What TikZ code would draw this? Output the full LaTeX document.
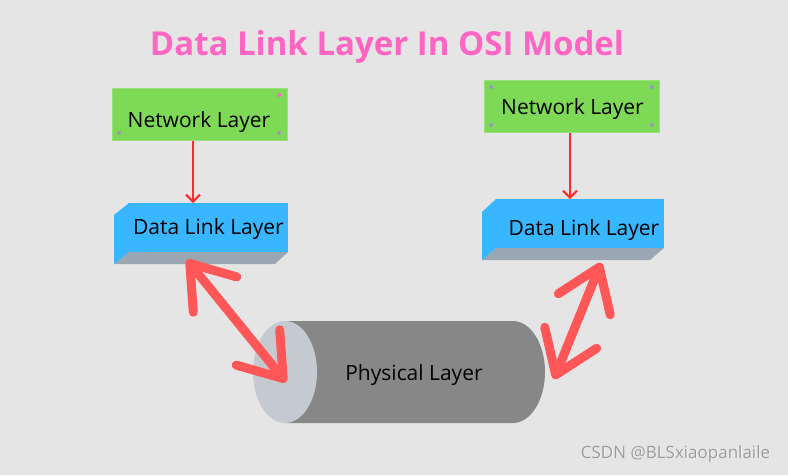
\documentclass[tikz,border=0pt]{standalone}
\usepackage{fontspec}
\setmainfont{Open Sans}
\usetikzlibrary{arrows.meta}
\definecolor{bg}{HTML}{E5E5E5}
\definecolor{netgreen}{HTML}{7ED957}
\definecolor{dllblue}{HTML}{38B6FF}
\definecolor{dllgrey}{HTML}{9AA6B2}
\definecolor{thinred}{HTML}{FF2A2A}
\definecolor{coral}{HTML}{FF5757}
\definecolor{titlepink}{HTML}{FF66C4}
\definecolor{cylbody}{HTML}{878787}
\definecolor{cylcap}{HTML}{C5CAD0}
\definecolor{dotgrey}{HTML}{9A9AB0}
\tikzset{
  netbox/.style={fill=netgreen, draw=netgreen!80!white, line width=0.6pt, minimum width=175pt, minimum height=52pt, inner sep=0pt},
  lbl/.style={font=\fontsize{21}{24}\selectfont, inner sep=0pt, anchor=base},
  thinarrow/.style={draw=thinred, line width=2pt, -{Straight Barb[length=7pt,width=14pt]}},
  bigarrow/.style={draw=coral, line width=9pt, line cap=round, {Straight Barb[length=40pt,width=56pt,round]}-{Straight Barb[length=40pt,width=56pt,round]}},
  cdot/.style={fill=dotgrey, draw=none},
}
\begin{document}
\begin{tikzpicture}[x=1pt,y=-1pt]
\fill[bg] (0,0) rectangle (788,475);
\useasboundingbox (0,0) rectangle (788,475);

% title
\node[font=\bfseries\fontsize{33}{37}\selectfont, text=titlepink, inner sep=0pt, anchor=base] (title) at (387,55) {Data Link Layer In OSI Model};

% left network layer
\node[netbox] (netL) at (199.5,114.5) {};
\node[lbl] (netLt) at (199,127) {Network Layer};
\fill[cdot] (119,133) circle (2pt);
\fill[cdot] (279,133) circle (2pt);
\fill[titlepink] (279,95) circle (2pt);

% right network layer
\node[netbox] (netR) at (571.5,106.5) {};
\node[lbl] (netRt) at (572.5,114) {Network Layer};
\fill[cdot] (491,87) circle (2pt);
\fill[cdot] (652,87) circle (2pt);
\fill[cdot] (491,125) circle (2pt);
\fill[cdot] (652,125) circle (2pt);

% left data link layer block
\fill[dllgrey] (129,252) -- (288,252) -- (275,264) -- (114,264) -- cycle;
\fill[dllblue] (114,215) -- (129,203) -- (129,252) -- (114,264) -- cycle;
\fill[dllblue] (129,203) rectangle (288,252);
\node[lbl] (dllL) at (208.5,234) {Data Link Layer};
\coordinate (dllLtop) at (193,203);

% right data link layer block
\fill[dllgrey] (496,248) -- (664,248) -- (650,260) -- (482,260) -- cycle;
\fill[dllblue] (482,212) -- (496,199) -- (496,248) -- (482,260) -- cycle;
\fill[dllblue] (496,199) rectangle (664,248);
\node[lbl] (dllR) at (584,235) {Data Link Layer};
\coordinate (dllRtop) at (570,199);

% thin arrows
\draw[thinarrow] (netL.south -| dllLtop) -- (dllLtop);
\draw[thinarrow] (netR.south -| dllRtop) -- (dllRtop);

% cylinder
\fill[cylbody] (285,321) -- (513,321) arc[start angle=-90, end angle=90, x radius=32, y radius=51] -- (285,423) -- cycle;
\fill[cylcap] (285,372) ellipse[x radius=32, y radius=51];
\node[lbl] (phys) at (414,380) {Physical Layer};

% big double arrows
\coordinate (aL1) at (187,260);
\coordinate (aL2) at (286,382);
\coordinate (aR1) at (601,263);
\coordinate (aR2) at (554,379);
\draw[bigarrow] (aL1) -- (aL2);
\draw[bigarrow] (aR1) -- (aR2);

% watermark
\node[font=\fontsize{17}{20}\selectfont, text=white, inner sep=0pt, anchor=base] at (676.1,458.6) {CSDN @BLSxiaopanlaile};
\node[font=\fontsize{17}{20}\selectfont, text=black!40, inner sep=0pt, anchor=base] (wm) at (675.5,458) {CSDN @BLSxiaopanlaile};
\end{tikzpicture}
\end{document}
